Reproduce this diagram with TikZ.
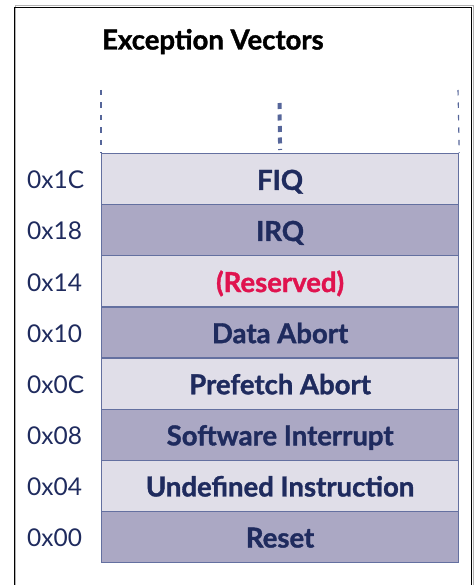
\documentclass[tikz,border=0pt]{standalone}
\usepackage{fontspec}
\setmainfont{Lato}[BoldFeatures={FakeBold=1.3}]
\definecolor{navy}{HTML}{1F2B5E}
\definecolor{lightrow}{HTML}{E0DEE8}
\definecolor{darkrow}{HTML}{ABA8C4}
\definecolor{rowline}{HTML}{6470A0}
\definecolor{resred}{HTML}{E0134F}
\definecolor{dashcol}{HTML}{56669A}
\begin{document}
\begin{tikzpicture}[x={(1pt,0)},y={(0,-1pt)},
  rowbox/.style={draw=rowline,line width=1.2pt,minimum width=357pt,minimum height=51.1pt,inner sep=0pt,anchor=north west,text height=21.4pt,text depth=0pt},
  lightbox/.style={rowbox,fill=lightrow},
  darkbox/.style={rowbox,fill=darkrow},
  rowtext/.style={text=navy,font=\fontsize{27.5}{30}\selectfont\bfseries},
  addr/.style={text=navy,font=\fontsize{24.5}{28}\selectfont,anchor=west,inner sep=0pt,text height=19.4pt,text depth=0pt},
  thindash/.style={draw=dashcol,line width=1.1pt,dash pattern=on 5.5pt off 7pt},
  thickdash/.style={draw=dashcol,line width=4pt,dash pattern=on 6pt off 5.5pt}]
\useasboundingbox (0,0) rectangle (475,585);
% outer frame
\draw[gray!60,line width=1pt] (15.5,586) -- (15.5,6) -- (473,6) -- (473,586);
\draw[black,line width=1pt] (14,586) -- (14,7.5) -- (471.5,7.5) -- (471.5,586);
% title
\node[anchor=base west,inner sep=0pt,font=\fontsize{27.5}{30}\selectfont\bfseries] (title) at (102,49.5) {Exception Vectors};
% rows
\node[lightbox,rowtext] (r7) at (101,153) {FIQ};
\node[darkbox,rowtext] (r6) at (101,204.1) {IRQ};
\node[lightbox,rowtext,text=resred] (r5) at (101,255.2) {(Reserved)};
\node[darkbox,rowtext] (r4) at (101,306.3) {Data Abort};
\node[lightbox,rowtext] (r3) at (101,357.4) {Prefetch Abort};
\node[darkbox,rowtext] (r2) at (101,408.5) {Software Interrupt};
\node[lightbox,rowtext] (r1) at (101,459.6) {Undefined Instruction};
\node[darkbox,rowtext] (r0) at (101,510.7) {Reset};
% addresses
\coordinate (ax) at (27,0);
\node[addr] (a7) at (ax |- r7) {0x1C};
\node[addr] (a6) at (ax |- r6) {0x18};
\node[addr] (a5) at (ax |- r5) {0x14};
\node[addr] (a4) at (ax |- r4) {0x10};
\node[addr] (a3) at (ax |- r3) {0x0C};
\node[addr] (a2) at (ax |- r2) {0x08};
\node[addr] (a1) at (ax |- r1) {0x04};
\node[addr] (a0) at (ax |- r0) {0x00};
% dashed continuation lines
\coordinate (tl) at (101,90);
\coordinate (tr) at (458,90);
\coordinate (tm) at (279.5,103);
\draw[thindash] (tl) -- (r7.north west);
\draw[thindash] (tr) -- (r7.north east);
\draw[thickdash] (tm) -- ([yshift=3pt]r7.north);
\end{tikzpicture}
\end{document}
